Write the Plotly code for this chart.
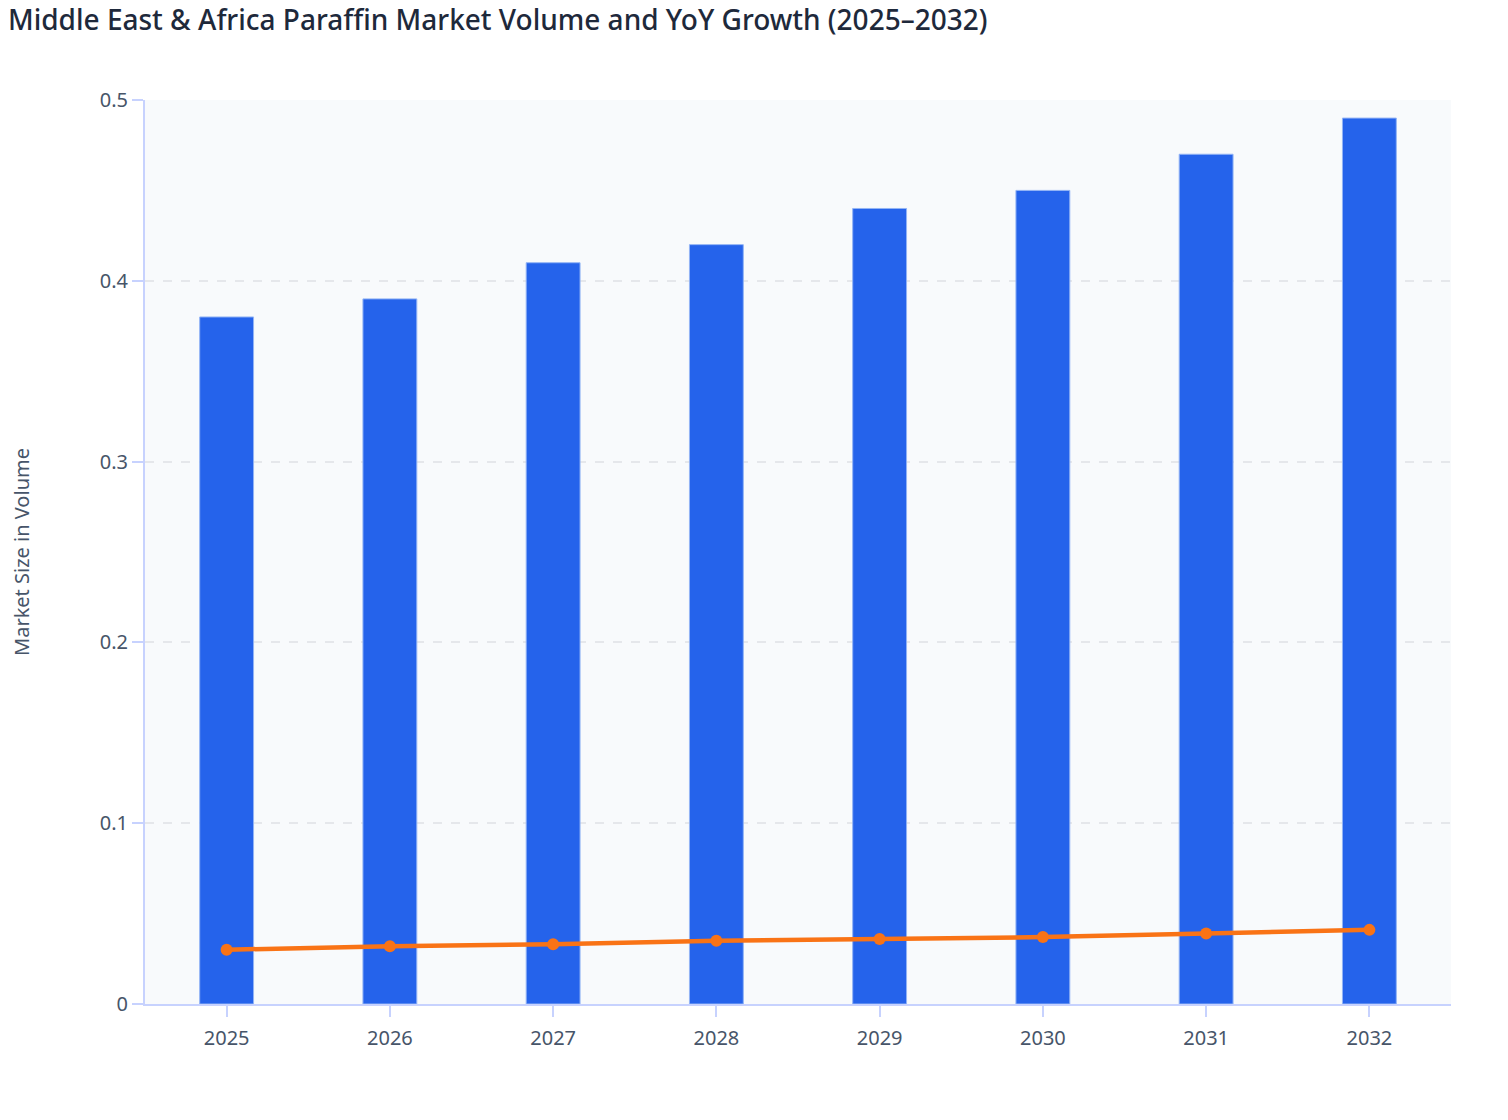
import plotly.graph_objects as go

# Data
years = ['2025', '2026', '2027', '2028', '2029', '2030', '2031', '2032']
market_volume = [0.38, 0.39, 0.41, 0.42, 0.44, 0.45, 0.47, 0.49]
yoy_growth = [0.030, 0.032, 0.033, 0.035, 0.036, 0.037, 0.039, 0.041]

font_family = 'Noto Sans, Open Sans, sans-serif'

fig = go.Figure()

# Volume bars
fig.add_trace(go.Bar(
    x=years, y=market_volume, name='Market Size in Volume',
    marker=dict(color='#2563eb', line=dict(color='#93b4f5', width=1)),
    width=0.33,
))

# YoY growth line
fig.add_trace(go.Scatter(
    x=years, y=yoy_growth, name='YoY Growth', mode='lines+markers',
    line=dict(color='#f97316', width=4.5),
    marker=dict(color='#f97316', size=12),
))

fig.update_layout(
    title=dict(text='Middle East & Africa Paraffin Market Volume and YoY Growth (2025–2032)',
               x=0, xref='container', xanchor='left',
               y=0.989, yref='container', yanchor='middle',
               font=dict(size=28, color='#1e293b', family=font_family, weight=500)),
    showlegend=False,
    width=1500, height=1112,
    margin=dict(l=137, r=57, t=92, b=116),
    paper_bgcolor='white',
    plot_bgcolor='#f8fafc',
    font=dict(family=font_family, size=20, color='#475569'),
)

fig.update_xaxes(
    type='category',
    showline=True, linecolor='#c7d2fe', linewidth=2,
    ticks='outside', tickcolor='#c7d2fe', ticklen=11, tickwidth=2,
    ticklabelstandoff=4,
    showgrid=False,
    tickfont=dict(size=20, color='#475569'),
)

fig.update_yaxes(
    title=dict(text='Market Size in Volume', font=dict(size=20, color='#475569'), standoff=76),
    automargin=False,
    range=[0, 0.5], dtick=0.1,
    showline=True, linecolor='#c7d2fe', linewidth=2,
    ticks='outside', tickcolor='#c7d2fe', ticklen=11, tickwidth=2,
    showgrid=True, gridcolor='#e5e7eb', griddash='dash', gridwidth=1.5,
    zeroline=False,
    tickfont=dict(size=20, color='#475569'),
)

fig.write_html('out.html')
